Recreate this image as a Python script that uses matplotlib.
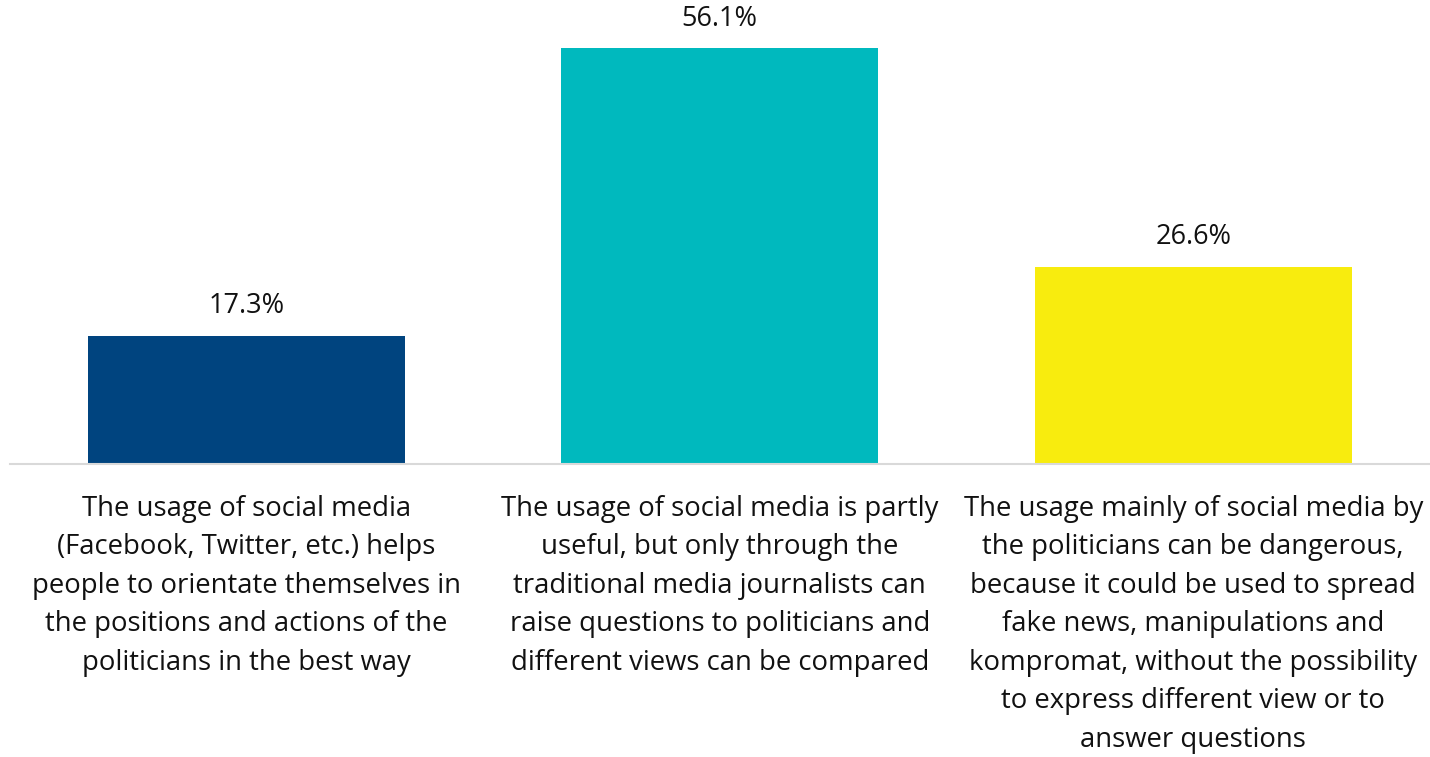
import matplotlib
matplotlib.use("Agg")
import matplotlib.pyplot as plt

plt.rcParams['font.family'] = ['Open Sans', 'DejaVu Sans']

categories = [
    "The usage of social media\n(Facebook, Twitter, etc.) helps\npeople to orientate themselves in\nthe positions and actions of the\npoliticians in the best way",
    "The usage of social media is partly\nuseful, but only through the\ntraditional media journalists can\nraise questions to politicians and\ndifferent views can be compared",
    "The usage mainly of social media by\nthe politicians can be dangerous,\nbecause it could be used to spread\nfake news, manipulations and\nkompromat, without the possibility\nto express different view or to\nanswer questions",
]
shares = [17.3, 56.1, 26.6]
colors = ['#00447f', '#00b9be', '#f8ec0e']

fig = plt.figure(figsize=(14.30, 7.57), dpi=100)
ax = fig.add_axes([9.5 / 1430, 1 - 464 / 757, 1 - 9.5 / 1430, 464 / 757])

x = range(len(shares))
bars = ax.bar(x, shares, width=0.669, color=colors)

for b, v in zip(bars, shares):
    ax.annotate(f"{v:.1f}%", (b.get_x() + b.get_width() / 2, v),
                xytext=(0, 11), textcoords='offset points',
                ha='center', va='bottom', fontsize=19.5, color='#111111')

ax.set_xlim(-0.5, 2.5)
ax.set_ylim(0, 62.57)
ax.set_xticks(list(x))
ax.set_xticklabels(categories, fontsize=19.8, color='#111111', linespacing=1.5)
ax.tick_params(axis='x', length=0, pad=22)
ax.set_yticks([])

for side in ['top', 'left', 'right']:
    ax.spines[side].set_visible(False)
ax.spines['bottom'].set_color('#d9d9d9')
ax.spines['bottom'].set_linewidth(1.5)

fig.savefig('out.png', dpi=100)
